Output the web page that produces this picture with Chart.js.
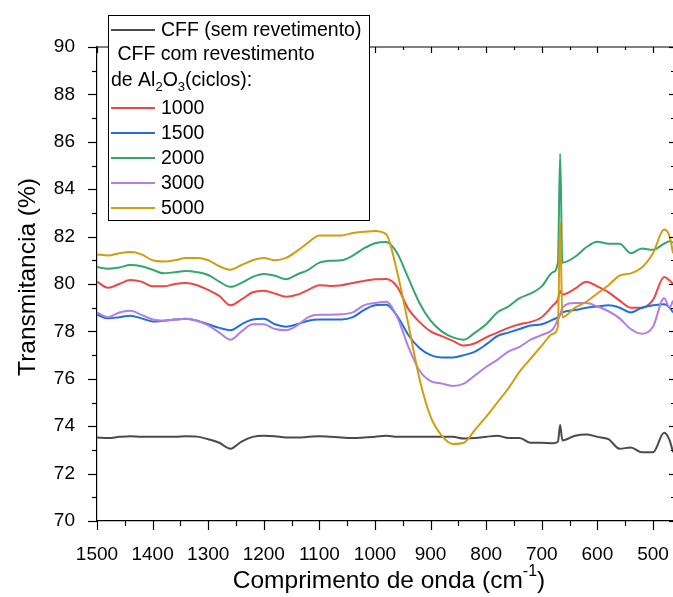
<!DOCTYPE html>
<html><head><meta charset="utf-8">
<script src="https://cdn.jsdelivr.net/npm/chart.js@4/dist/chart.umd.min.js"></script>
<style>html,body{margin:0;padding:0;background:#fff}#wrap{width:673px;height:597px;position:relative}</style>
</head><body><div id="wrap"><canvas id="c" width="673" height="597"></canvas></div>
<script>
const wavenumbers = [1500,1480,1460,1440,1420,1400,1380,1360,1340,1320,
  1300,1280,1260,1240,1220,1200,1180,1160,1140,1120,
  1100,1080,1060,1040,1020,1000,980,960,940,920,
  900,880,860,840,820,800,780,760,740,720,
  700,680,671,667,663,640,620,600,580,560,
  540,520,500,480,470,464];
const cffSem = [73.52,73.5,73.55,73.58,73.55,73.55,73.56,73.56,73.58,73.56,
  73.45,73.3,73.05,73.35,73.55,73.6,73.58,73.52,73.52,73.55,
  73.58,73.55,73.52,73.5,73.52,73.55,73.6,73.55,73.56,73.55,
  73.56,73.55,73.55,73.48,73.5,73.55,73.6,73.5,73.5,73.3,
  73.3,73.28,73.35,74.05,73.4,73.6,73.65,73.55,73.45,73.05,
  73.1,72.9,72.9,73.72,73.4,72.9];
const c1000 = [80.1,79.84,80.0,80.17,80.1,79.9,79.9,80.0,80.04,79.95,
  79.75,79.5,79.1,79.35,79.65,79.72,79.6,79.46,79.55,79.75,
  79.95,79.92,79.95,80.04,80.13,80.2,80.21,79.88,78.95,78.4,
  78.0,77.8,77.6,77.4,77.5,77.75,77.95,78.15,78.3,78.4,
  78.6,79.1,79.35,79.7,79.55,79.8,80.1,79.9,79.65,79.3,
  79.0,79.0,79.33,80.3,80.15,80.0];
const c1500 = [78.7,78.55,78.6,78.66,78.55,78.42,78.45,78.5,78.53,78.45,
  78.3,78.15,78.05,78.3,78.5,78.53,78.3,78.2,78.3,78.45,
  78.5,78.5,78.5,78.6,78.9,79.1,79.12,78.65,77.85,77.3,
  77.0,76.9,76.9,77.0,77.15,77.45,77.8,77.95,78.1,78.25,
  78.3,78.5,78.6,78.7,78.8,78.9,79.0,79.05,79.1,79.0,
  78.8,79.0,79.1,79.15,79.0,78.8];
const c2000 = [80.72,80.64,80.7,80.8,80.75,80.6,80.45,80.5,80.55,80.5,
  80.38,80.1,79.88,80.05,80.3,80.42,80.35,80.2,80.4,80.6,
  80.9,80.98,81.0,81.2,81.5,81.72,81.77,81.3,80.25,79.2,
  78.45,78.0,77.75,77.65,77.95,78.3,78.8,79.05,79.4,79.6,
  79.9,80.5,80.9,85.5,80.9,81.15,81.55,81.78,81.7,81.7,
  81.3,81.5,81.44,81.7,81.8,81.75];
const c3000 = [78.8,78.6,78.8,78.87,78.7,78.5,78.45,78.5,78.53,78.45,
  78.25,77.95,77.65,78.0,78.3,78.3,78.1,78.05,78.25,78.6,
  78.7,78.7,78.72,78.8,79.1,79.2,79.25,78.6,77.35,76.35,
  75.9,75.8,75.7,75.8,76.15,76.5,76.8,77.15,77.35,77.65,
  77.85,78.1,78.5,78.7,79.0,79.2,79.2,79.05,78.85,78.55,
  78.1,77.9,78.2,79.4,79.0,79.3];
const c5000 = [81.25,81.2,81.3,81.35,81.25,81.0,80.95,81.0,81.1,81.1,
  81.0,80.75,80.6,80.8,81.0,81.1,81.0,81.1,81.4,81.75,
  82.05,82.05,82.05,82.15,82.2,82.24,82.1,80.5,78.3,76.0,
  74.4,73.6,73.25,73.3,73.85,74.4,75.0,75.6,76.3,76.85,
  77.4,77.9,78.2,82.6,78.6,79.0,79.25,79.6,79.95,80.35,
  80.45,80.7,81.3,82.3,82.0,81.3];
const xTicks = [1500,1400,1300,1200,1100,1000,900,800,700,600,500];
const yTicks = [70,72,74,76,78,80,82,84,86,88,90];
const seriesNames = ['CFF (sem revetimento)','1000','1500','2000','3000','5000'];
const seriesColors = ['#4a4a4a','#f04545','#1f6fdc','#34a66b','#b07ee6','#d29d0e'];

const FONT = "'Liberation Sans', Arial, sans-serif";
const allSeries = [cffSem,c1000,c1500,c2000,c3000,c5000];
const orders = [5,4,3,2,1,0];
const datasets = allSeries.map((s,i)=>({
  label: seriesNames[i],
  data: wavenumbers.map((w,j)=>({x:w,y:s[j]})),
  borderColor: seriesColors[i],
  borderWidth: 2,
  pointRadius: 0,
  fill: false,
  cubicInterpolationMode: 'monotone',
  order: orders[i]
}));

const decor = {
  id:'decor',
  afterDraw(chart){
    const ctx = chart.ctx, a = chart.chartArea;
    const xs = chart.scales.x, ys = chart.scales.y;
    ctx.save();
    ctx.strokeStyle = '#000'; ctx.lineWidth = 1.2;
    ctx.beginPath(); ctx.moveTo(a.left, a.top); ctx.lineTo(a.right, a.top); ctx.stroke();
    for (let v = 1500; v >= 464; v -= 50) {
      const px = Math.round(xs.getPixelForValue(v)) + 0.5;
      const major = v % 100 === 0;
      ctx.beginPath(); ctx.moveTo(px, a.bottom); ctx.lineTo(px, a.bottom + (major ? 9 : 5)); ctx.stroke();
      ctx.beginPath(); ctx.moveTo(px, a.top); ctx.lineTo(px, a.top + (major ? 6 : 3)); ctx.stroke();
    }
    for (let v = 70; v <= 90; v += 1) {
      const py = Math.round(ys.getPixelForValue(v)) + 0.5;
      const major = v % 2 === 0;
      ctx.beginPath(); ctx.moveTo(a.left, py); ctx.lineTo(a.left - (major ? 9 : 5), py); ctx.stroke();
      ctx.beginPath(); ctx.moveTo(a.right, py); ctx.lineTo(a.right - (major ? 4 : 2), py); ctx.stroke();
    }
    // legend box
    ctx.fillStyle = '#fff';
    ctx.fillRect(108, 15, 261, 205);
    ctx.lineWidth = 1;
    ctx.strokeStyle = '#000';
    ctx.strokeRect(108.5, 15.5, 261, 205);
    ctx.fillStyle = '#000';
    ctx.textBaseline = 'middle';
    ctx.textAlign = 'left';
    const lf = '19.5px ' + FONT;
    ctx.font = lf;
    const rowsY = [30, 108, 133, 158, 183, 208];
    rowsY.forEach((y,i)=>{
      ctx.strokeStyle = seriesColors[i]; ctx.lineWidth = 2.2;
      ctx.beginPath(); ctx.moveTo(111, y); ctx.lineTo(155, y); ctx.stroke();
      ctx.fillStyle = '#000';
      ctx.fillText(seriesNames[i], 161, y + 1);
    });
    ctx.fillText(' CFF com revestimento', 112, 55);
    let x = 111; const yy = 81;
    const seg = (t, sub) => {
      ctx.font = sub ? '13px ' + FONT : lf;
      ctx.fillText(t, x, sub ? yy + 6 : yy);
      x += ctx.measureText(t).width;
    };
    seg('de Al'); seg('2', true); seg('O'); seg('3', true); seg('(ciclos):');
    // axis titles
    const tf = '24.5px ' + FONT, sf = '16px ' + FONT;
    ctx.font = tf;
    ctx.fillStyle = '#000';
    ctx.save();
    ctx.translate(28, 277); ctx.rotate(-Math.PI/2);
    ctx.textAlign = 'center'; ctx.fillText('Transmitancia (%)', 0, 0);
    ctx.restore();
    const t1 = 'Comprimento de onda (cm', t2 = '-1', t3 = ')';
    ctx.font = tf; const w1 = ctx.measureText(t1).width, w3 = ctx.measureText(t3).width;
    ctx.font = sf; const w2 = ctx.measureText(t2).width;
    let tx = 389 - (w1 + w2 + w3) / 2; const ty = 581;
    ctx.textAlign = 'left';
    ctx.font = tf; ctx.fillText(t1, tx, ty); tx += w1;
    ctx.font = sf; ctx.fillText(t2, tx, ty - 9); tx += w2;
    ctx.font = tf; ctx.fillText(t3, tx, ty);
    ctx.restore();
  }
};

new Chart(document.getElementById('c'), {
  type: 'line',
  data: { datasets },
  options: {
    responsive: false, animation: false, devicePixelRatio: 1,
    layout: { padding: { left: 0, top: 47, right: 0, bottom: 0 } },
    plugins: { legend: { display: false }, tooltip: { enabled: false } },
    scales: {
      x: {
        type: 'linear', reverse: true, min: 464, max: 1500,
        afterBuildTicks: s => { s.ticks = xTicks.map(v => ({ value: v })); },
        afterFit: s => { s.height = 76; s.paddingRight = 0; s.paddingLeft = 0; },
        grid: { display: false },
        border: { display: true, color: '#000', width: 1.2 },
        ticks: { font: { family: FONT, size: 19 }, color: '#000', padding: 14, maxRotation: 0, autoSkip: false,
                 callback: v => String(v) }
      },
      y: {
        min: 70, max: 90,
        afterBuildTicks: s => { s.ticks = yTicks.map(v => ({ value: v })); },
        afterFit: s => { s.width = 97; s.paddingTop = 0; s.paddingBottom = 0; },
        grid: { display: false },
        border: { display: true, color: '#000', width: 1.2 },
        ticks: { font: { family: FONT, size: 19 }, color: '#000', padding: 14, callback: v => String(v) }
      }
    }
  },
  plugins: [decor]
});
</script>
</body></html>
